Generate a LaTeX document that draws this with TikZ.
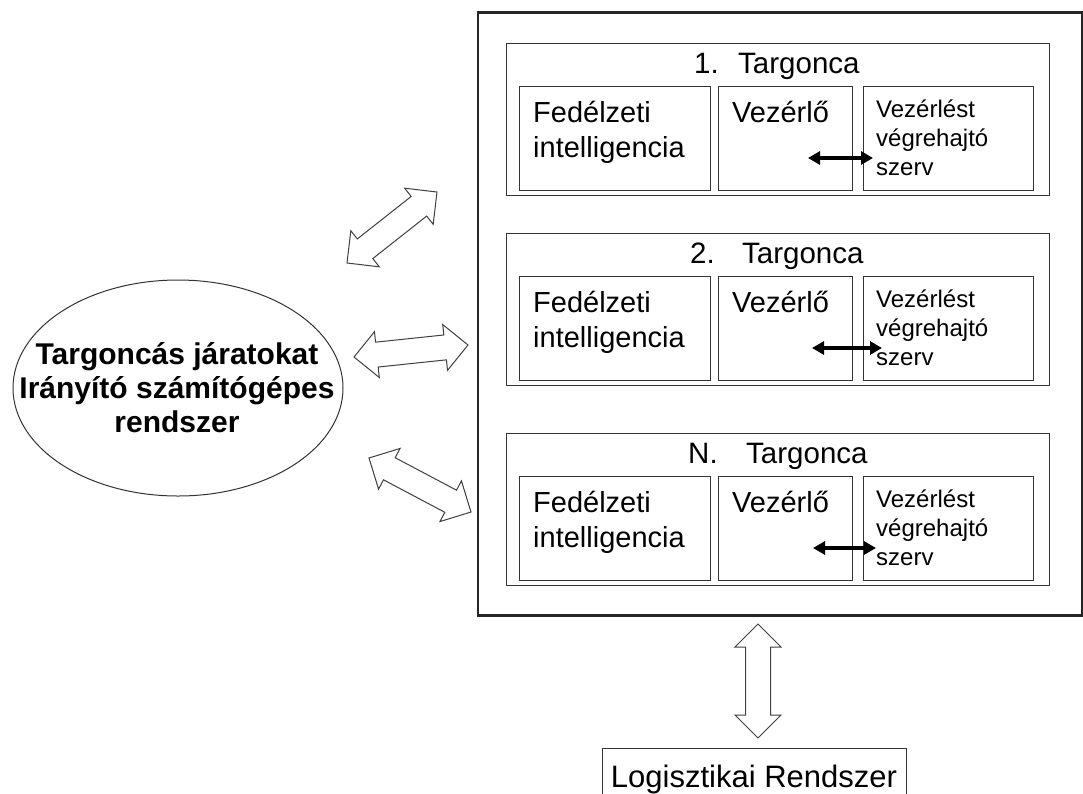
\documentclass[tikz,border=0pt]{standalone}
\usepackage{fontspec}
\setmainfont{Liberation Sans}
\usetikzlibrary{arrows.meta,calc,shapes.geometric}

\tikzset{
  outerframe/.style={draw=black!85, line width=2.5pt, inner sep=0pt, anchor=north west},
  unitbox/.style={draw=black!80, line width=1.1pt, inner sep=0pt, anchor=north west,
    minimum width=543pt, minimum height=152pt},
  partbox/.style={draw=black!80, line width=1.1pt, inner sep=0pt, anchor=north west,
    minimum height=104pt},
  bigtext/.style={font=\fontsize{29}{35}\selectfont, inner sep=0pt, align=left, anchor=base west},
  smalltext/.style={font=\fontsize{24}{29}\selectfont, inner sep=0pt, align=left, anchor=base west},
  titletext/.style={font=\fontsize{29.5}{34}\selectfont, inner sep=0pt, anchor=base west},
  linkarrow/.style={line width=4pt,
    arrows={Triangle[length=12pt,width=13pt]-Triangle[length=12pt,width=13pt]}},
  hollow/.style={draw=black!75, line width=1pt, fill=white, line join=miter},
}

% One truck: #1 suffix, #2 top edge, #3 number, #4 x of number, #5 x of word,
% #6/#7 ends of the controller link
% (multi-line text nodes are anchored at the baseline of their last line)
\newcommand\truckunit[7]{%
  \node[unitbox] (u#1) at (506,#2) {};
  \node[titletext] (u#1title) at (#4,#2+30)
    {\makebox[\dimexpr#5pt-#4pt\relax][l]{#3}Targonca};
  \node[partbox, minimum width=191pt] (f#1) at (519,#2+43) {};
  \node[partbox, minimum width=134pt] (c#1) at (718,#2+43) {};
  \node[partbox, minimum width=170pt] (x#1) at (863,#2+43) {};
  \node[bigtext] (f#1text) at (533,#2+114) {Fedélzeti\\intelligencia};
  \node[bigtext] (c#1text) at (732,#2+79) {Vezérlő};
  \node[smalltext] (x#1text) at (876,#2+132) {Vezérlést\\végrehajtó\\szerv};
  \coordinate (c#1port) at (#6,#2+115);
  \coordinate (x#1port) at (#7,#2+115);
  \draw[linkarrow] (c#1port) -- (x#1port);
}

% Wide outlined double arrow between two named points
\newcommand\hollowlink[2]{%
  \draw[hollow] let \p1=(#1), \p2=(#2),
      \n1={atan2(\y2-\y1,\x2-\x1)}, \n2={veclen(\x2-\x1,\y2-\y1)} in
    [shift={(\p1)}, rotate=\n1]
    (0,0) -- (23,23) -- (23,12.5) -- ({\n2-23},12.5) -- ({\n2-23},23) -- (\n2,0)
    -- ({\n2-23},-23) -- ({\n2-23},-12.5) -- (23,-12.5) -- (23,-23) -- cycle;}

\begin{document}
\begin{tikzpicture}[x=1pt,y=-1pt]
  \useasboundingbox (0,0) rectangle (1083,793);
  \fill[white] (0,0) rectangle (1083,793);

  % fleet frame with the three trucks
  \node[outerframe, minimum width=604pt, minimum height=603pt] (fleet) at (476.5,11) {};
  \truckunit{1}{43}{1.}{694}{738}{808}{873}
  \truckunit{2}{233}{2.}{690}{742}{812}{882}
  \truckunit{3}{433}{N.}{688}{746}{813}{876}

  % central control system
  \node[draw=black!80, line width=1pt, ellipse, inner sep=0pt,
        minimum width=330pt, minimum height=216pt] (sys) at (178,388) {};
  \node[font=\bfseries\fontsize{30}{34}\selectfont, align=center, inner sep=0pt,
        anchor=base] (systext) at (177,432)
        {Targoncás járatokat\\Irányító számítógépes\\rendszer};

  % logistics system
  \node[draw=black!80, line width=1.1pt, inner sep=0pt, anchor=north west,
        minimum width=304pt, minimum height=52pt] (logi) at (602,748) {};
  \node[font=\fontsize{31}{36}\selectfont, inner sep=0pt, anchor=base]
        (logitext) at (754,787) {Logisztikai Rendszer};

  % communication links
  \coordinate (h1a) at (347,263); \coordinate (h1b) at (437,192);
  \coordinate (h2a) at (354,357); \coordinate (h2b) at (468,345);
  \coordinate (h3a) at (369,458); \coordinate (h3b) at (471,512);
  \coordinate (h4a) at (758,624); \coordinate (h4b) at (758,738);
  \hollowlink{h1a}{h1b}
  \hollowlink{h2a}{h2b}
  \hollowlink{h3a}{h3b}
  \hollowlink{h4a}{h4b}
\end{tikzpicture}
\end{document}
